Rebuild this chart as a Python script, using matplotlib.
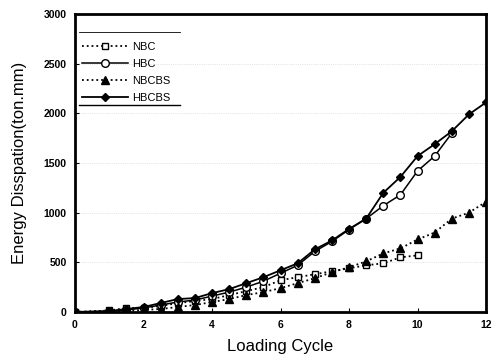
import numpy as np
import matplotlib
matplotlib.use("Agg")
import matplotlib.pyplot as plt

plt.rcParams['font.family'] = ['Liberation Sans Narrow', 'Liberation Sans', 'DejaVu Sans']

# 데이터
cycle_nbc = [0, 1, 1.5, 2, 2.5, 3, 3.5, 4, 4.5, 5, 5.5, 6, 6.5, 7, 7.5, 8, 8.5, 9, 9.5, 10]
nbc = [0, 15, 40, 40, 60, 90, 110, 130, 170, 210, 250, 320, 350, 380, 410, 440, 470, 490, 550, 570]

cycle_hbc = [0, 1, 1.5, 2, 2.5, 3, 3.5, 4, 4.5, 5, 5.5, 6, 6.5, 7, 7.5, 8, 8.5, 9, 9.5, 10, 10.5, 11]
hbc = [0, 5, 20, 40, 70, 100, 120, 160, 200, 250, 310, 390, 470, 610, 710, 830, 940, 1070, 1180, 1420, 1570, 1800]

cycle_bs = [0, 1, 1.5, 2, 2.5, 3, 3.5, 4, 4.5, 5, 5.5, 6, 6.5, 7, 7.5, 8, 8.5, 9, 9.5, 10, 10.5, 11, 11.5, 12]
nbcbs = [0, 5, 10, 20, 30, 50, 70, 100, 130, 170, 200, 240, 290, 340, 400, 450, 510, 590, 640, 730, 800, 940, 1000, 1110]
hbcbs = [0, 10, 30, 50, 90, 130, 140, 190, 230, 290, 350, 420, 490, 630, 720, 836, 940, 1200, 1360, 1570, 1690, 1820, 1990, 2110]

xticks = [0, 2, 4, 6, 8, 10, 12]
yticks = [0, 500, 1000, 1500, 2000, 2500, 3000]

fig = plt.figure(figsize=(4.92, 3.64), dpi=100)
ax = fig.add_axes([0.1524, 0.1429, 0.8356, 0.8186])

ax.plot(cycle_nbc, nbc, ls=':', lw=1.3, color='k', marker='s', ms=5,
        mfc='white', mec='k', mew=1.0, label='NBC')
ax.plot(cycle_hbc, hbc, ls='-', lw=1.1, color='k', marker='o', ms=5.5,
        mfc='white', mec='k', mew=1.0, label='HBC')
ax.plot(cycle_bs, nbcbs, ls=':', lw=1.3, color='k', marker='^', ms=5.5,
        mfc='k', mec='k', label='NBCBS')
ax.plot(cycle_bs, hbcbs, ls='-', lw=1.3, color='k', marker='D', ms=4.5,
        mfc='k', mec='k', label='HBCBS')

ax.set_xlim(0, 12)
ax.set_ylim(0, 3000)
ax.set_xticks(xticks)
ax.set_yticks(yticks)
ax.tick_params(direction='in', labelsize=7.5, length=3, width=0.8, pad=6)
for lab in ax.get_xticklabels() + ax.get_yticklabels():
    lab.set_fontweight('bold')
ax.grid(axis='y', ls=':', lw=0.5, color='0.8')
for s in ax.spines.values():
    s.set_linewidth(2)

ax.set_xlabel('Loading Cycle', fontsize=12, labelpad=6)
ax.set_ylabel('Energy Disspation(ton.mm)', fontsize=12, labelpad=12)

leg = ax.legend(loc='upper left', bbox_to_anchor=(0.0, 0.93), frameon=False,
                fontsize=8, handlelength=4.2, handletextpad=0.3,
                labelspacing=0.65, borderaxespad=0.2)
# 범례 위/아래 선
ax.plot([0.01, 0.255], [0.94, 0.94], transform=ax.transAxes, color='k', lw=0.6)
ax.plot([0.01, 0.255], [0.695, 0.695], transform=ax.transAxes, color='k', lw=1.0)

plt.savefig('out.png', dpi=100)
